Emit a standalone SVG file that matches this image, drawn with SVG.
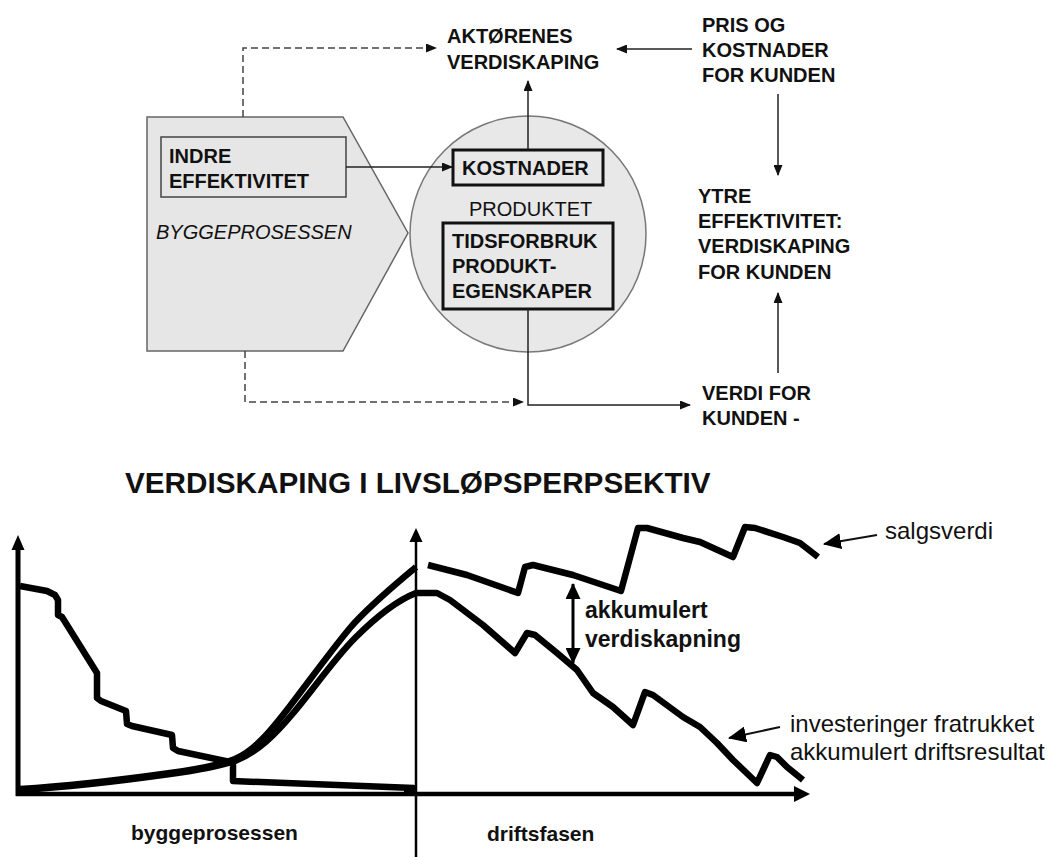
<svg xmlns="http://www.w3.org/2000/svg" width="1051" height="857" viewBox="0 0 1051 857">
  <style>
    text { font-family: "Liberation Sans", Arial, Helvetica, sans-serif; fill: #111; }
    .b20 { font-size: 20px; font-weight: bold; }
    .r20 { font-size: 20px; }
    .i20 { font-size: 20px; font-style: italic; }
    .title { font-size: 29.7px; font-weight: bold; }
    .lbl { font-size: 24px; }
    .lblb { font-size: 23px; font-weight: bold; }
    .axlbl { font-size: 21px; font-weight: bold; }
    .link { fill: none; stroke: #222; stroke-width: 1.5; }
    .dash { fill: none; stroke: #444; stroke-width: 1.5; stroke-dasharray: 7 4; }
    .curve { fill: none; stroke: #000; stroke-width: 6.5; stroke-linejoin: round; stroke-linecap: butt; }
    .axis { fill: none; stroke: #000; }
  </style>
  <defs>
    <marker id="arr" markerUnits="userSpaceOnUse" markerWidth="11" markerHeight="9" refX="10" refY="4.5" orient="auto">
      <path d="M0,0 L11,4.5 L0,9 z" fill="#111"/>
    </marker>
    <marker id="bigArr" markerUnits="userSpaceOnUse" markerWidth="18" markerHeight="16" refX="17" refY="8" orient="auto">
      <path d="M0,0 L18,8 L0,16 z" fill="#000"/>
    </marker>
    <marker id="dblArr" markerUnits="userSpaceOnUse" markerWidth="16" markerHeight="15" refX="15" refY="7.5" orient="auto-start-reverse">
      <path d="M0,0 L16,7.5 L0,15 z" fill="#000"/>
    </marker>
  </defs>

  <rect width="1051" height="857" fill="#fff"/>

  <!-- building process shape -->
  <g id="byggeprosessen">
    <polygon points="147,117 343,117 408,233 343,351 147,351" fill="#e6e6e6" stroke="#666" stroke-width="1.5"/>
    <text class="i20" x="156" y="239">BYGGEPROSESSEN</text>
  </g>

  <g id="indre-effektivitet">
    <rect x="161" y="137" width="185" height="60" fill="none" stroke="#444" stroke-width="1.5"/>
    <text class="b20" x="169" y="163">INDRE</text>
    <text class="b20" x="169" y="188">EFFEKTIVITET</text>
  </g>

  <!-- product circle -->
  <g id="produktet">
    <circle cx="528" cy="234" r="118" fill="#e8e8e8" stroke="#777" stroke-width="1.5"/>
    <text class="r20" x="469" y="216">PRODUKTET</text>
  </g>

  <g id="kostnader">
    <rect x="453" y="150" width="150" height="35" fill="none" stroke="#111" stroke-width="3"/>
    <text class="b20" x="462" y="175">KOSTNADER</text>
  </g>

  <g id="tidsforbruk">
    <rect x="443" y="223" width="170" height="86" fill="none" stroke="#111" stroke-width="3"/>
    <text class="b20" x="452" y="248">TIDSFORBRUK</text>
    <text class="b20" x="452" y="273">PRODUKT-</text>
    <text class="b20" x="452" y="298">EGENSKAPER</text>
  </g>

  <g id="aktorenes-verdiskaping">
    <text class="b20" x="447" y="43">AKTØRENES</text>
    <text class="b20" x="447" y="69">VERDISKAPING</text>
  </g>

  <g id="pris-og-kostnader">
    <text class="b20" x="702" y="32">PRIS OG</text>
    <text class="b20" x="702" y="57">KOSTNADER</text>
    <text class="b20" x="702" y="82">FOR KUNDEN</text>
  </g>

  <g id="ytre-effektivitet">
    <text class="b20" x="698" y="203">YTRE</text>
    <text class="b20" x="698" y="228">EFFEKTIVITET:</text>
    <text class="b20" x="698" y="253">VERDISKAPING</text>
    <text class="b20" x="698" y="279">FOR KUNDEN</text>
  </g>

  <g id="verdi-for-kunden">
    <text class="b20" x="702" y="400">VERDI FOR</text>
    <text class="b20" x="702" y="425">KUNDEN -</text>
  </g>

  <!-- connectors of the upper diagram -->
  <g id="connectors">
    <path class="dash" d="M243,117 V48 H436" marker-end="url(#arr)"/>
    <path class="dash" d="M245,351 V402 H523" marker-end="url(#arr)"/>
    <path class="link" d="M346,167 H452" marker-end="url(#arr)"/>
    <path class="link" d="M528,150 V81" marker-end="url(#arr)"/>
    <path class="link" d="M528,309 V405 H690" marker-end="url(#arr)"/>
    <path class="link" d="M692,49 H617" marker-end="url(#arr)"/>
    <path class="link" d="M778,94 V175" marker-end="url(#arr)"/>
    <path class="link" d="M778,373 V293" marker-end="url(#arr)"/>
  </g>

  <!-- life-cycle chart -->
  <g id="livslop-chart">
    <text class="title" x="125" y="493">VERDISKAPING I LIVSLØPSPERPSEKTIV</text>

    <!-- axes -->
    <g id="axes">
      <line class="axis" x1="18" y1="796" x2="18" y2="548" stroke-width="5"/>
      <path d="M18,535 L11.5,550 L24.5,550 z" fill="#000"/>
      <line class="axis" x1="16" y1="794" x2="796" y2="794" stroke-width="4.5"/>
      <path d="M810,794 L794,786 L794,802 z" fill="#000"/>
      <line class="axis" x1="416" y1="857" x2="416" y2="540" stroke-width="2.5"/>
      <path d="M416,528 L409.5,542 L422.5,542 z" fill="#000"/>
    </g>

    <!-- curves -->
    <g id="curves">
      <path class="curve" d="M20,586 L47,591 L55,595 L58,600 L58,615 L62,617 L97,673 L97,698 L101,701 L126,711 L127,724 L132,726 L172,735 L173,748 L178,751 L230,762 L233,765 L233,781 L414,788"/>
      <path d="M404,785 L417,785 L417,792 L404,792 z" fill="#000"/>
      <path class="curve" d="M20,789 C70,786 120,780 170,773 C200,769 220,765 235,759 C255,750 270,732 290,706 C310,680 330,652 350,628 C370,605 395,585 416,567"/>
      <path class="curve" d="M20,790 C70,787 120,781 170,774 C200,770 220,766 235,761 C258,752 275,735 295,711 C315,687 335,658 355,638 C375,618 398,600 416,593"/>
      <path class="curve" d="M416,593 L437,593 L450,600 L483,625 L515,653 L527,633 L535,635 L557,653 L577,670 L593,693 L613,707 L633,725 L645,692 L653,695 L683,717 L700,727 L717,743 L733,760 L757,783 L770,755 L777,757 L787,767 L803,780"/>
      <path class="curve" d="M428,565 L467,575 L518,593 L525,567 L533,565 L573,575 L621,591 L638,528 L647,528 L683,538 L700,542 L733,557 L745,527 L755,528 L783,537 L800,543 L818,557"/>
    </g>

    <!-- labels and pointers -->
    <g id="akkumulert-verdiskapning">
      <line x1="573" y1="584" x2="573" y2="663" stroke="#000" stroke-width="3" marker-start="url(#dblArr)" marker-end="url(#dblArr)"/>
      <text class="lblb" x="585" y="618">akkumulert</text>
      <text class="lblb" x="585" y="647">verdiskapning</text>
    </g>
    <g id="salgsverdi">
      <line x1="877" y1="535" x2="824" y2="544" stroke="#111" stroke-width="2" marker-end="url(#bigArr)"/>
      <text class="lbl" x="885" y="539">salgsverdi</text>
    </g>
    <g id="investeringer">
      <line x1="780" y1="727" x2="729" y2="738" stroke="#111" stroke-width="2" marker-end="url(#bigArr)"/>
      <text class="lbl" x="790" y="732">investeringer fratrukket</text>
      <text class="lbl" x="790" y="760">akkumulert driftsresultat</text>
    </g>
    <text class="axlbl" x="131" y="840">byggeprosessen</text>
    <text class="axlbl" x="487" y="841">driftsfasen</text>
  </g>
</svg>
